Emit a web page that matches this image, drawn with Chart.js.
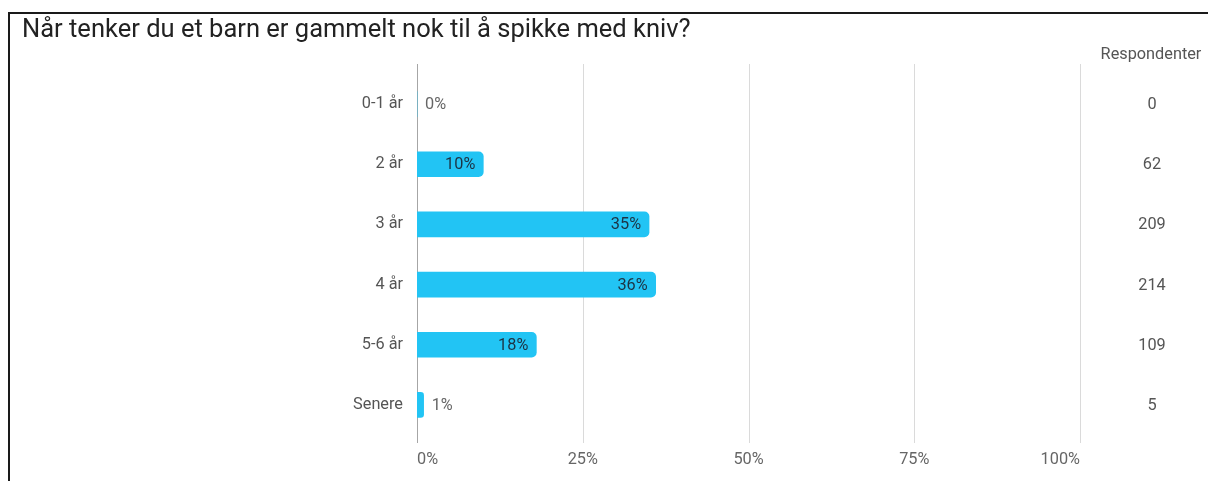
<!DOCTYPE html>
<html>
<head>
<meta charset="utf-8">
<script src="https://cdn.jsdelivr.net/npm/chart.js@4/dist/chart.umd.min.js"></script>
<style>
  html, body { margin: 0; padding: 0; background: #fff; }
  #wrap { width: 1208px; height: 481px; position: relative; }
</style>
</head>
<body>
<div id="wrap"><canvas id="c" width="1208" height="481"></canvas></div>
<script>
const title = 'Når tenker du et barn er gammelt nok til å spikke med kniv?';
const categories = ['0-1 år', '2 år', '3 år', '4 år', '5-6 år', 'Senere'];
const percents = [0, 10, 35, 36, 18, 1];
const respondents = [0, 62, 209, 214, 109, 5];
const countHeader = 'Respondenter';
const xTicks = [0, 25, 50, 75, 100];

const FONT = 'Roboto, "Noto Sans", Arial, sans-serif';
const SMALL = 16.3;

const decor = {
  id: 'decor',
  beforeDraw(chart) {
    const ctx = chart.ctx;
    ctx.save();
    ctx.fillStyle = '#fff';
    ctx.fillRect(0, 0, chart.width, chart.height);
    // frame
    ctx.strokeStyle = '#1a1a1a';
    ctx.lineWidth = 2;
    ctx.beginPath();
    ctx.moveTo(9, chart.height);
    ctx.lineTo(9, 13);
    ctx.lineTo(chart.width, 13);
    ctx.stroke();
    // title
    ctx.fillStyle = '#222';
    ctx.font = '25.5px ' + FONT;
    ctx.textAlign = 'left';
    ctx.textBaseline = 'alphabetic';
    ctx.fillText(title, 22, 37);
    ctx.restore();
  },
  beforeDatasetsDraw(chart) {
    const ctx = chart.ctx;
    const xs = chart.scales.x;
    const area = chart.chartArea;
    ctx.save();
    xTicks.forEach(v => {
      const px = Math.round(xs.getPixelForValue(v)) + 0.5;
      ctx.strokeStyle = v === 0 ? '#a6a6a6' : '#dadada';
      ctx.lineWidth = 1;
      ctx.beginPath();
      ctx.moveTo(px, area.top - 10);
      ctx.lineTo(px, area.bottom + 8);
      ctx.stroke();
    });
    ctx.restore();
  },
  afterDatasetsDraw(chart) {
    const ctx = chart.ctx;
    const meta = chart.getDatasetMeta(0);
    ctx.save();
    ctx.font = SMALL + 'px ' + FONT;
    ctx.textBaseline = 'middle';
    meta.data.forEach((bar, i) => {
      const label = percents[i] + '%';
      const w = bar.x - bar.base;
      if (w > 40) {
        ctx.fillStyle = '#1d3344';
        ctx.textAlign = 'right';
        ctx.fillText(label, bar.x - 8, bar.y + 1);
      } else {
        ctx.fillStyle = '#666';
        ctx.textAlign = 'left';
        ctx.fillText(label, bar.x + 8, bar.y + 1);
      }
    });
    // respondents column
    const cx = 1152;
    ctx.fillStyle = '#555';
    ctx.textAlign = 'center';
    ctx.fillText(countHeader, 1151, 55);
    meta.data.forEach((bar, i) => {
      ctx.fillText(String(respondents[i]), cx, bar.y + 1);
    });
    ctx.restore();
  }
};

new Chart(document.getElementById('c'), {
  type: 'bar',
  data: {
    labels: categories,
    datasets: [{
      data: percents,
      backgroundColor: '#22c4f4',
      borderRadius: 5,
      borderSkipped: 'start',
      barThickness: 25
    }]
  },
  options: {
    indexAxis: 'y',
    responsive: false,
    animation: false,
    devicePixelRatio: 1,
    layout: { padding: { top: 74, right: 128, bottom: 0, left: 0 } },
    plugins: {
      legend: { display: false },
      tooltip: { enabled: false },
      title: { display: false }
    },
    scales: {
      x: {
        min: 0,
        max: 100,
        afterBuildTicks(scale) { scale.ticks = xTicks.map(v => ({ value: v })); },
        afterFit(scale) { scale.height = 46; },
        grid: { display: false, drawTicks: false },
        border: { display: false },
        ticks: {
          align: 'inner',
          padding: 15,
          color: '#666',
          font: { family: FONT, size: SMALL },
          callback: v => v + '%'
        }
      },
      y: {
        afterFit(scale) { scale.width = 417; },
        grid: { display: false, drawTicks: false },
        border: { display: false },
        ticks: {
          padding: 14,
          color: '#555',
          font: { family: FONT, size: SMALL }
        }
      }
    }
  },
  plugins: [decor]
});
</script>
</body>
</html>
